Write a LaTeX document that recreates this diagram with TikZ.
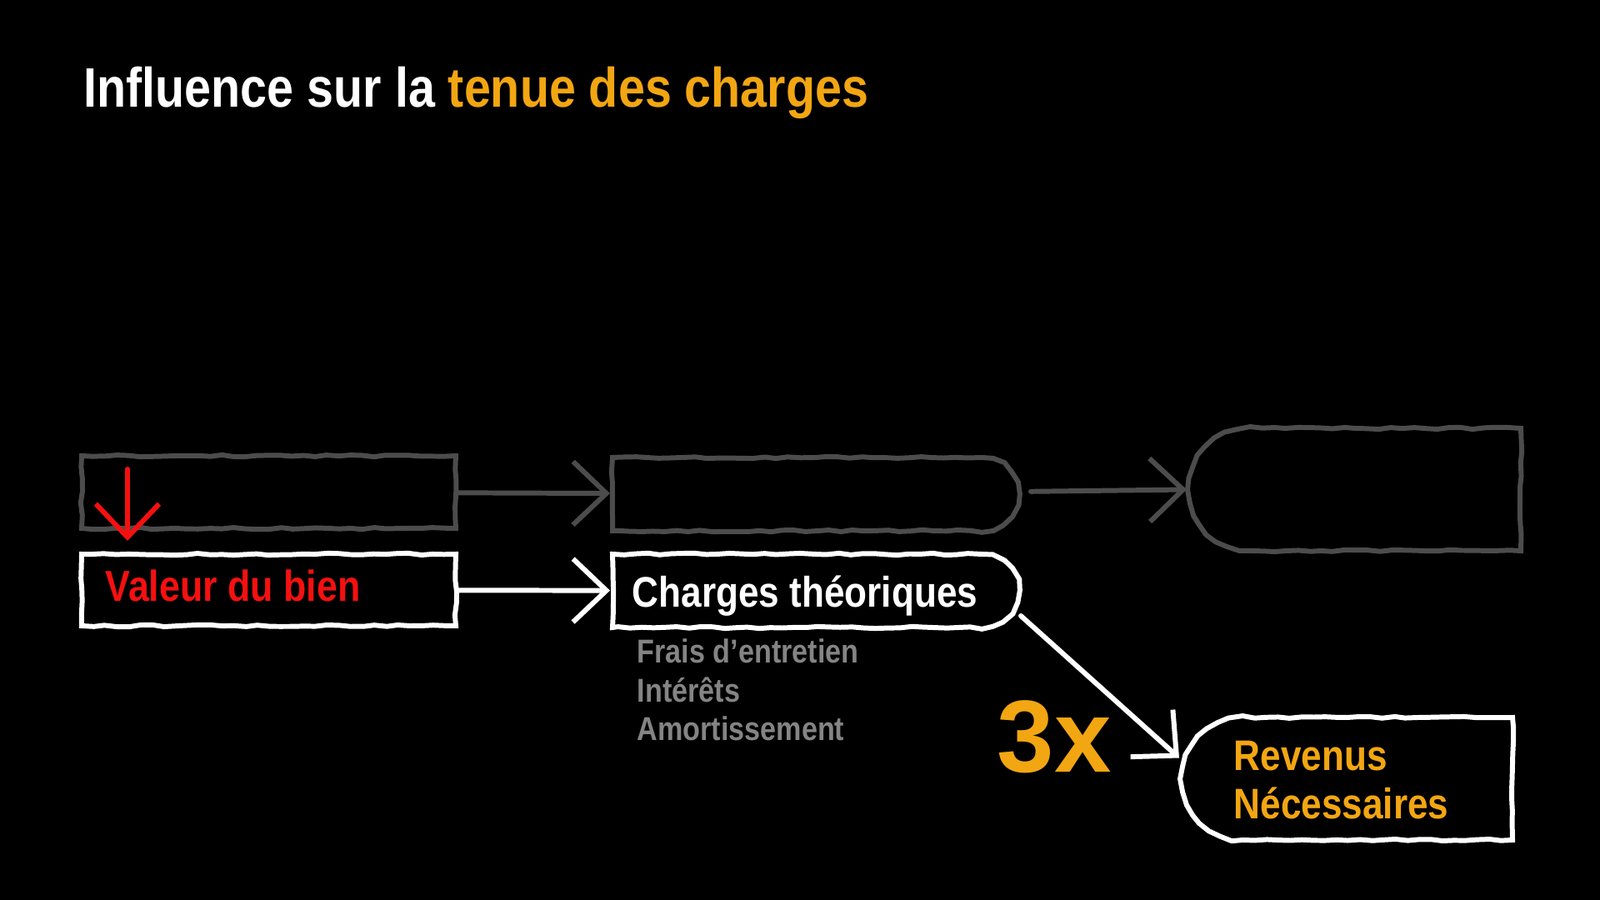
\documentclass[tikz,border=0pt]{standalone}
\usepackage{fontspec}
\setmainfont{Liberation Sans}[FakeStretch=0.86]
\newfontfamily\widefont{Liberation Sans}
\usetikzlibrary{shapes.misc,arrows.meta,decorations.pathmorphing}

\definecolor{chalkgrey}{RGB}{76,76,76}
\definecolor{listgrey}{RGB}{132,132,132}
\definecolor{amber}{RGB}{242,166,18}
\definecolor{alarm}{RGB}{245,16,16}

\tikzset{
  chalk/.style={line width=1.7pt, decorate,
    decoration={random steps, segment length=4pt, amplitude=0.35pt}},
  plainbox/.style={rectangle, chalk, draw=#1, inner sep=0pt},
  roundbox/.style={rounded rectangle, chalk, draw=#1, inner sep=0pt},
  link/.style={line width=1.7pt, line cap=round, draw=#1,
    -{Straight Barb[length=4mm,width=7.6mm]}},
  label/.style={anchor=base west, inner sep=0pt, font=\bfseries\fontsize{#1}{#1}\selectfont}
}

\begin{document}
\begin{tikzpicture}
\useasboundingbox (0,0) rectangle (19.2,10.8);
\fill[black] (0,0) rectangle (19.2,10.8);

\node[label=19pt, text=white] (TITLE) at (1.00,9.51) {Influence sur la \textcolor{amber}{tenue des charges}};

% faded row
\node[plainbox=chalkgrey, minimum width=4.49cm, minimum height=0.87cm] (OLDVAL) at (3.225,4.895) {};
\node[roundbox=chalkgrey, rounded rectangle west arc=none, minimum width=4.87cm, minimum height=0.88cm] (OLDCHG) at (9.785,4.87) {};
\node[roundbox=chalkgrey, rounded rectangle east arc=none, minimum width=3.98cm, minimum height=1.47cm] (OLDREV) at (16.26,4.925) {};
\draw[link=chalkgrey] (OLDVAL) -- (OLDCHG);
\draw[link=chalkgrey, shorten <=1.2mm] (OLDCHG) -- (OLDREV.west);

% current row
\node[plainbox=white, minimum width=4.49cm, minimum height=0.86cm] (VAL) at (3.225,3.72) {};
\node[roundbox=white, rounded rectangle west arc=none, minimum width=4.87cm, minimum height=0.88cm] (CHG) at (9.785,3.71) {};
\node[roundbox=white, rounded rectangle east arc=none, minimum width=3.97cm, minimum height=1.47cm] (REV) at (16.165,1.455) {};
\draw[link=white] (VAL) -- (CHG);
\draw[link=white] ([yshift=-0.3cm]CHG.east) -- ([yshift=0.25cm]REV.west);

% drop of the value
\coordinate (DROPTOP) at (1.53,5.17);
\coordinate (DROPEND) at (1.53,4.31);
\draw[link=alarm] (DROPTOP) -- (DROPEND);

\node[label=14.8pt, text=alarm] (VALTXT) at (1.26,3.58) {Valeur du bien};
\node[label=14.6pt, text=white] (CHGTXT) at (7.58,3.51) {Charges théoriques};
\node[label=11.3pt, text=listgrey] (FRAIS) at (7.64,2.84) {Frais d’entretien};
\node[label=11.3pt, text=listgrey] (INTER) at (7.64,2.375) {Intérêts};
\node[label=11.3pt, text=listgrey] (AMORT) at (7.64,1.91) {Amortissement};
\node[label=35pt, text=amber, font=\widefont\bfseries\fontsize{35pt}{35pt}\selectfont] (TIMES) at (11.96,1.53) {3x};
\node[label=14.6pt, text=amber] (REVA) at (14.80,1.555) {Revenus};
\node[label=14.6pt, text=amber] (REVB) at (14.80,0.97) {Nécessaires};
\end{tikzpicture}
\end{document}
